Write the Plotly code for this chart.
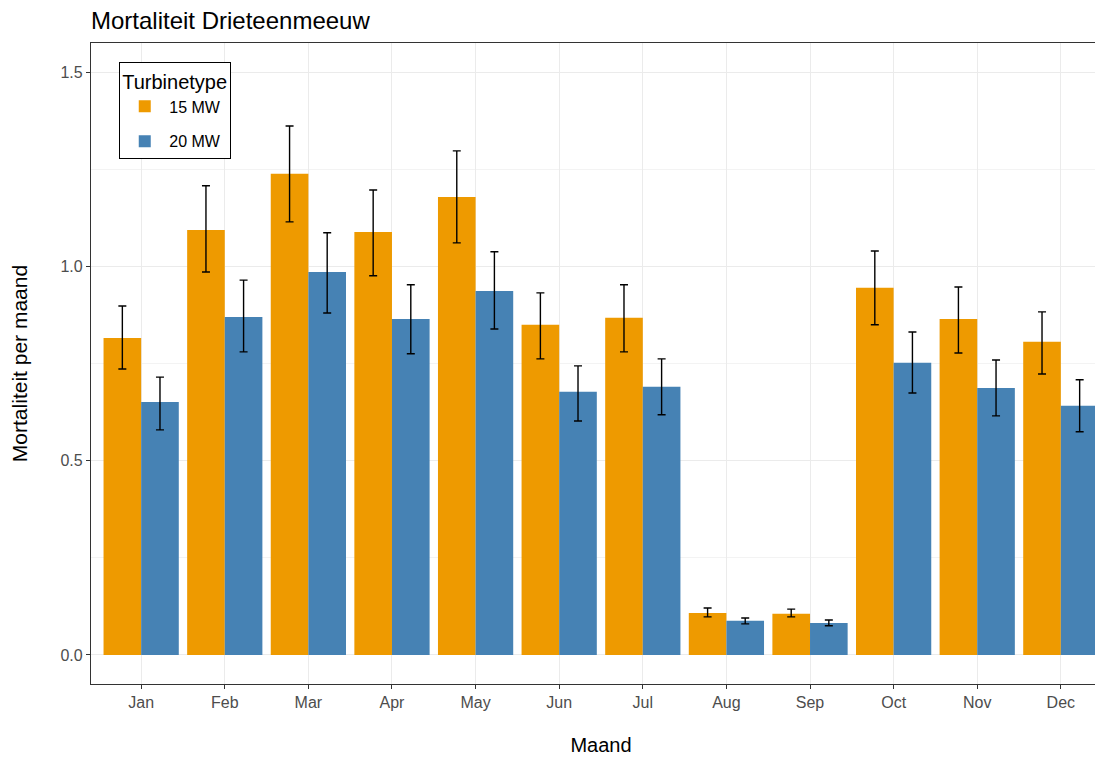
import plotly.graph_objects as go

# data
maanden = ["Jan", "Feb", "Mar", "Apr", "May", "Jun", "Jul", "Aug", "Sep", "Oct", "Nov", "Dec"]

mw15 = [0.817, 1.095, 1.240, 1.090, 1.180, 0.851, 0.869, 0.108, 0.106, 0.946, 0.866, 0.807]
mw15_hi = [0.899, 1.209, 1.363, 1.198, 1.299, 0.933, 0.954, 0.121, 0.118, 1.041, 0.948, 0.884]
mw15_lo = [0.737, 0.987, 1.116, 0.977, 1.062, 0.763, 0.781, 0.098, 0.098, 0.851, 0.778, 0.724]

mw20 = [0.652, 0.871, 0.987, 0.866, 0.938, 0.678, 0.691, 0.088, 0.082, 0.753, 0.688, 0.642]
mw20_hi = [0.716, 0.966, 1.088, 0.954, 1.039, 0.745, 0.763, 0.095, 0.090, 0.832, 0.760, 0.709]
mw20_lo = [0.580, 0.781, 0.881, 0.776, 0.840, 0.603, 0.619, 0.080, 0.075, 0.675, 0.616, 0.575]

FONT = "Liberation Sans, Arial, sans-serif"


def err(vals, hi, lo):
    return dict(type="data", symmetric=False,
                array=[h - v for v, h in zip(vals, hi)],
                arrayminus=[v - l for v, l in zip(vals, lo)],
                color="black", thickness=1.4, width=4)


fig = go.Figure()
fig.add_trace(go.Bar(x=maanden, y=mw15, name="15 MW", marker_color="#EE9A00",
                     marker_line_width=0, legendgroup="a",
                     error_y=err(mw15, mw15_hi, mw15_lo)))
fig.add_trace(go.Bar(x=maanden, y=mw20, name="20 MW", marker_color="#4682B4",
                     marker_line_width=0, legendgroup="b",
                     error_y=err(mw20, mw20_hi, mw20_lo)))

# the page sits 8px in from the window corner, so margins are 8px smaller
fig.update_layout(
    width=1103, height=758,
    margin=dict(l=83, r=0, t=35, b=82),
    paper_bgcolor="white", plot_bgcolor="white",
    barmode="group", bargap=0.1, bargroupgap=0,
    font=dict(family=FONT, color="#4D4D4D", size=16),
    title=dict(text="Mortaliteit Drieteenmeeuw", x=83 / 1103, xanchor="left",
               y=1 - 13 / 758, yanchor="middle",
               font=dict(family=FONT, size=24, color="black")),
    legend=dict(x=0.0275, y=0.97, xanchor="left", yanchor="top",
                bordercolor="black", borderwidth=1.2, bgcolor="white",
                title=dict(text="Turbinetype", font=dict(size=20, color="black")),
                font=dict(size=16, color="black"), tracegroupgap=11, itemwidth=39),
)

fig.update_xaxes(
    title=dict(text="Maand", font=dict(size=20, color="black"), standoff=27),
    range=[-0.6, 11.6], showgrid=True, gridcolor="#EBEBEB", gridwidth=1,
    showline=True, linecolor="#333333", linewidth=1.3, mirror=True,
    ticks="outside", ticklen=4, tickcolor="#333333",
    tickfont=dict(size=16, color="#4D4D4D"),
)
fig.update_yaxes(
    title=dict(text="Mortaliteit per maand", font=dict(size=21, color="black"), standoff=28),
    range=[-0.075, 1.577], tickvals=[0, 0.5, 1.0, 1.5], ticktext=["0.0", "0.5", "1.0", "1.5"],
    showgrid=True, gridcolor="#EBEBEB", gridwidth=1,
    minor=dict(tickvals=[0.25, 0.75, 1.25], showgrid=True, gridcolor="#F3F3F3", ticks=""),
    zeroline=False, showline=True, linecolor="#333333", linewidth=1.3,
    ticks="outside", ticklen=4, tickcolor="#333333",
    tickfont=dict(size=16, color="#4D4D4D"),
)

fig.write_html("out.html")
